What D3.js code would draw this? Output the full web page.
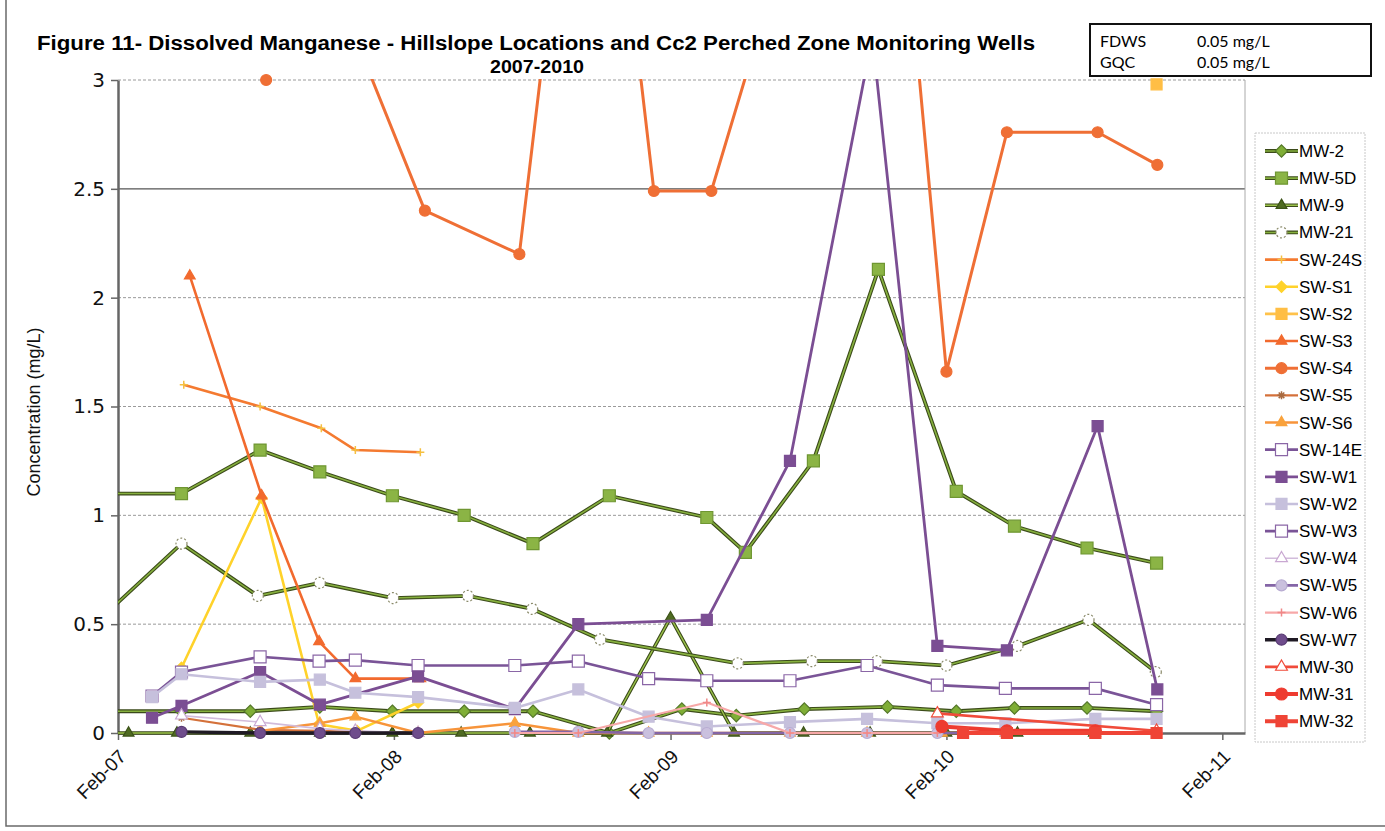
<!DOCTYPE html>
<html><head><meta charset="utf-8">
<script src="https://cdn.jsdelivr.net/npm/d3@7"></script>
<style>body{margin:0;background:#fff}svg{display:block}</style>
</head><body>
<svg id="chart" width="1385" height="831"></svg>
<script>
// ---------------- DATA ----------------
const titleLine1 = "Figure 11- Dissolved Manganese - Hillslope Locations and Cc2 Perched Zone Monitoring Wells";
const titleLine2 = "2007-2010";
const yTitle = "Concentration (mg/L)";
const yTicks = [0, 0.5, 1, 1.5, 2, 2.5, 3];
const xTicks = ["2007-02-01","2008-02-01","2009-02-01","2010-02-01","2011-02-01"];
const xDomain = ["2007-02-01","2011-03-03"];
const standardsNames = ["FDWS","GQC"];
const standardsValues = ["0.05 mg/L","0.05 mg/L"];

const mw2 = [["2006-12-01",0.10],["2007-04-26",0.10],["2007-07-26",0.10],["2007-10-26",0.12],["2008-01-30",0.10],["2008-05-04",0.10],["2008-08-03",0.10],["2008-11-12",0.00],["2009-02-16",0.11],["2009-04-29",0.08],["2009-07-28",0.11],["2009-11-15",0.12],["2010-02-14",0.10],["2010-05-02",0.115],["2010-08-06",0.115],["2010-11-06",0.10]];
const mw5d = [["2006-12-01",1.10],["2007-04-26",1.10],["2007-08-08",1.30],["2007-10-26",1.20],["2008-01-30",1.09],["2008-05-04",1.00],["2008-08-03",0.87],["2008-11-12",1.09],["2009-03-21",0.99],["2009-05-11",0.83],["2009-08-09",1.25],["2009-11-03",2.13],["2010-02-14",1.11],["2010-05-02",0.95],["2010-08-06",0.85],["2010-11-06",0.78]];
const mw9 = [["2006-12-01",0],["2007-02-15",0],["2007-04-20",0],["2007-07-26",0],["2007-10-26",0],["2008-01-30",0],["2008-04-30",0],["2008-07-30",0],["2008-11-09",0],["2009-02-01",0.53],["2009-04-26",0],["2009-07-27",0],["2009-10-23",0],["2010-02-01",0],["2010-05-06",0],["2010-08-15",0]];
const mw21 = [["2006-12-01",0.40],["2007-04-26",0.87],["2007-08-05",0.63],["2007-10-26",0.69],["2008-01-31",0.62],["2008-05-09",0.63],["2008-08-02",0.57],["2008-10-31",0.43],["2009-05-01",0.32],["2009-08-07",0.33],["2009-11-01",0.33],["2010-02-01",0.31],["2010-05-06",0.40],["2010-08-08",0.52],["2010-11-05",0.28]];
const sw24s = [["2007-04-29",1.60],["2007-08-08",1.50],["2007-10-28",1.40],["2007-12-12",1.30],["2008-03-07",1.29]];
const sws1 = [["2007-04-26",0.30],["2007-08-10",1.08],["2007-10-25",0.04],["2007-12-14",0.01],["2008-03-04",0.14]];
const sws2 = [["2010-11-06",2.98]];
const sws3 = [["2007-05-07",2.10],["2007-08-10",1.09],["2007-10-25",0.42],["2007-12-12",0.25],["2008-03-07",0.25]];
const sws4 = [["2007-08-16",3.00],["2007-10-26",3.60],["2008-03-13",2.40],["2008-07-16",2.20],["2008-10-19",4.97],["2009-01-10",2.49],["2009-03-27",2.49],["2009-11-03",5.05],["2010-02-01",1.66],["2010-04-22",2.76],["2010-08-20",2.76],["2010-11-07",2.61]];
const sws5 = [["2007-04-26",0.07],["2007-08-08",0.015],["2007-10-26",0.01],["2007-12-12",0.005],["2008-03-04",0.0]];
const sws6 = [["2007-08-08",0.01],["2007-10-26",0.045],["2007-12-12",0.075],["2008-03-04",0.0],["2008-07-10",0.045],["2008-10-02",0.0],["2009-01-03",0.0],["2009-03-21",0.0],["2009-07-09",0.0],["2009-10-19",0.0],["2010-01-26",0.0],["2010-04-20",0.0],["2010-08-17",0.0]];
const sw14e = [["2007-03-18",0.17],["2007-04-26",0.28],["2007-08-08",0.35],["2007-10-25",0.33],["2007-12-12",0.335],["2008-03-04",0.31],["2008-07-10",0.31],["2008-10-02",0.33],["2009-01-03",0.25],["2009-03-21",0.24],["2009-07-09",0.24],["2009-10-19",0.31],["2010-01-20",0.22],["2010-04-20",0.205],["2010-08-17",0.205],["2010-11-06",0.13]];
const sww1 = [["2007-03-18",0.07],["2007-04-26",0.125],["2007-08-08",0.28],["2007-10-26",0.13],["2008-03-04",0.26],["2008-07-10",0.11],["2008-10-02",0.50],["2009-03-21",0.52],["2009-07-09",1.25],["2009-10-26",3.20],["2010-01-20",0.40],["2010-04-22",0.38],["2010-08-20",1.41],["2010-11-07",0.20]];
const sww2 = [["2007-03-18",0.165],["2007-04-26",0.27],["2007-08-08",0.235],["2007-10-26",0.245],["2007-12-12",0.185],["2008-03-04",0.165],["2008-07-10",0.115],["2008-10-02",0.20],["2009-01-03",0.075],["2009-03-21",0.03],["2009-07-09",0.05],["2009-10-19",0.065],["2010-01-20",0.045],["2010-04-20",0.045],["2010-08-17",0.065],["2010-11-06",0.065]];
const sww3 = [];
const sww4 = [["2007-04-26",0.08],["2007-08-08",0.05],["2007-10-26",0.02],["2007-12-12",0.01],["2008-03-04",0.0]];
const sww5 = [["2008-07-10",0.005],["2008-10-02",0.005],["2009-01-03",0.0],["2009-03-21",0.0],["2009-07-09",0.0],["2009-10-19",0.0],["2010-01-20",0.0],["2010-04-20",0.0],["2010-08-17",0.0],["2010-11-06",0.0]];
const sww6 = [["2008-07-10",0.0],["2008-10-02",0.0],["2009-03-21",0.14],["2009-07-09",0.0],["2009-10-19",0.0],["2010-01-20",0.0]];
const sww7 = [["2007-04-26",0.005],["2007-08-08",0.0],["2007-10-26",0.0],["2007-12-12",0.0],["2008-03-04",0.0]];
const mw30 = [["2010-01-20",0.09],["2010-11-06",0.01]];
const mw31 = [["2010-01-26",0.03],["2010-04-22",0.01],["2010-08-17",0.01]];
const mw32 = [["2010-02-23",0.0],["2010-04-22",0.0],["2010-08-17",0.0],["2010-11-06",0.0]];

const seriesNames = ["MW-2","MW-5D","MW-9","MW-21","SW-24S","SW-S1","SW-S2","SW-S3","SW-S4","SW-S5","SW-S6","SW-14E","SW-W1","SW-W2","SW-W3","SW-W4","SW-W5","SW-W6","SW-W7","MW-30","MW-31","MW-32"];
const seriesValues = [mw2,mw5d,mw9,mw21,sw24s,sws1,sws2,sws3,sws4,sws5,sws6,sw14e,sww1,sww2,sww3,sww4,sww5,sww6,sww7,mw30,mw31,mw32];

// ---------------- STYLES ----------------
const G = "#86b03e", GE = "#3b4a1a";
const seriesStyles = [
  {line:G, edge:GE, w:1.6, marker:"diamond", size:10, fill:"#7fae36", stroke:"#55782a"},
  {line:G, edge:GE, w:1.6, marker:"square", size:12, fill:"#8bb445", stroke:"#6f9632"},
  {line:"#9bc24a", edge:GE, w:1.4, marker:"triangle", size:10, fill:"#4f6b22", stroke:"#3c5318"},
  {line:G, edge:GE, w:1.6, marker:"circle", size:11, fill:"#fff", stroke:"#8a8a6a", dash:"2,2"},
  {line:"#f47a30", w:2.6, marker:"plus", size:8, fill:"none", stroke:"#f5c040"},
  {line:"#ffd22a", w:2.6, marker:"diamond", size:9, fill:"#ffd22a", stroke:"#ffd22a"},
  {line:"#ffc24a", w:2.6, marker:"square", size:11, fill:"#ffbe45", stroke:"#ffbe45"},
  {line:"#f26a2e", w:2.6, marker:"triangle", size:10, fill:"#f26a2e", stroke:"#f26a2e"},
  {line:"#ef6f35", w:3, marker:"circle", size:11, fill:"#ef6f35", stroke:"#ef6f35"},
  {line:"#d4713a", w:2.2, marker:"star", size:8, fill:"none", stroke:"#a86a40"},
  {line:"#f7943a", w:2.4, marker:"triangle", size:10, fill:"#f9a23c", stroke:"#f9a23c"},
  {line:"#7a5497", w:2.6, marker:"square", size:12, fill:"#fff", stroke:"#8a66a6"},
  {line:"#7b4e93", w:2.8, marker:"square", size:11, fill:"#7b4e93", stroke:"#7b4e93"},
  {line:"#c6c0dc", w:2.6, marker:"square", size:11, fill:"#c6c0dc", stroke:"#c6c0dc"},
  {line:"#7a5497", w:2.6, marker:"square", size:12, fill:"#fff", stroke:"#8a66a6"},
  {line:"#d2bcdb", w:1.6, marker:"triangle", size:11, fill:"#fff", stroke:"#c9a8d2"},
  {line:"#8465a6", w:2.6, marker:"circle", size:11, fill:"#cac0de", stroke:"#b8acd2"},
  {line:"#f7a8a8", w:2.2, marker:"plus", size:8, fill:"none", stroke:"#f08888"},
  {line:"#1f1a24", w:3.4, marker:"circle", size:11, fill:"#6f4d8c", stroke:"#5a3c75"},
  {line:"#f04b3a", w:2.6, marker:"triangle", size:11, fill:"#fff", stroke:"#f04b3a"},
  {line:"#ee3b30", w:4, marker:"circle", size:12, fill:"#ee3b30", stroke:"#ee3b30"},
  {line:"#ef4436", w:4, marker:"square", size:11, fill:"#ef4436", stroke:"#ef4436"}
];

// ---------------- CHART ----------------
const parse = d3.utcParse("%Y-%m-%d");
const svg = d3.select("#chart");
const plot = {left:118, right:1245, top:80, bottom:733};
const x = d3.scaleUtc().domain(xDomain.map(parse)).range([plot.left, plot.right]);
const y = d3.scaleLinear().domain([0,3]).range([plot.bottom, plot.top]);

// outer frame
svg.append("path").attr("d","M6,0V826H1385").attr("fill","none").attr("stroke","#6a6a6a").attr("stroke-width",1.5);

// titles
svg.append("text").attr("x",37).attr("y",50).attr("textLength",998).attr("lengthAdjust","spacingAndGlyphs")
  .style("font-family","'Liberation Sans',Arial,sans-serif").style("font-weight","bold").style("font-size","20px").text(titleLine1);
svg.append("text").attr("x",537).attr("y",73).attr("text-anchor","middle").attr("textLength",94).attr("lengthAdjust","spacingAndGlyphs")
  .style("font-family","'Liberation Sans',Arial,sans-serif").style("font-weight","bold").style("font-size","19px").text(titleLine2);

// standards box
svg.append("rect").attr("x",1090).attr("y",24).attr("width",281).attr("height",52).attr("fill","#fff").attr("stroke","#111").attr("stroke-width",2);
standardsNames.forEach((n,i)=>{
  svg.append("text").attr("x",1100).attr("y",47+i*21).style("font-family","Lato,'Open Sans',sans-serif").style("font-size","16px").text(n);
  svg.append("text").attr("x",1197).attr("y",47+i*21).style("font-family","Lato,'Open Sans',sans-serif").style("font-size","16px").text(standardsValues[i]);
});

// gridlines
const grid = svg.append("g");
yTicks.filter(t=>t>0).forEach(t=>{
  grid.append("line").attr("x1",plot.left).attr("x2",plot.right).attr("y1",y(t)).attr("y2",y(t))
    .attr("stroke", t===2.5 ? "#555" : "#9a9a9a").attr("stroke-width", t===2.5?1.2:1)
    .attr("stroke-dasharray", t===2.5 ? null : "3,2");
});
// right border
svg.append("line").attr("x1",plot.right).attr("x2",plot.right).attr("y1",plot.top).attr("y2",plot.bottom).attr("stroke","#aaa").attr("stroke-width",1);

// axes
const yAxis = svg.append("g").attr("transform",`translate(${plot.left},0)`)
  .call(d3.axisLeft(y).tickValues(yTicks).tickFormat(d3.format("")).tickSize(7).tickSizeOuter(0).tickPadding(6));
yAxis.select(".domain").attr("stroke","#666").attr("stroke-width",2.5);
yAxis.selectAll(".tick line").attr("stroke","#666").attr("stroke-width",1.5);
yAxis.selectAll("text").style("font-family","'DejaVu Sans',Verdana,sans-serif").style("font-size","20px").attr("fill","#111");

const xAxis = svg.append("g").attr("transform",`translate(0,${plot.bottom})`)
  .call(d3.axisBottom(x).tickValues(xTicks.map(parse)).tickFormat(d3.utcFormat("%b-%y")).tickSize(7).tickSizeOuter(0));
xAxis.select(".domain").attr("stroke","#666").attr("stroke-width",2.5);
xAxis.selectAll(".tick line").attr("stroke","#666").attr("stroke-width",1.5);
xAxis.selectAll("text").attr("text-anchor","end").attr("dy","0.35em").attr("y",0)
  .attr("transform","translate(4,20) rotate(-45)")
  .style("font-family","'Liberation Sans',Arial,sans-serif").style("font-size","19px").attr("fill","#111");

// y title
svg.append("text").attr("transform","translate(40,412) rotate(-90)").attr("text-anchor","middle")
  .style("font-family","'Liberation Sans',Arial,sans-serif").style("font-size","18px").attr("fill","#111").text(yTitle);

// clip
svg.append("clipPath").attr("id","pc").append("rect")
  .attr("x",plot.left).attr("y",plot.top-1).attr("width",plot.right-plot.left).attr("height",plot.bottom-plot.top+8);

function markerPath(type, s){
  switch(type){
    case "square": return d3.symbol(d3.symbolSquare, s*s)();
    case "diamond": { const h=s*0.62; return `M0,${-h}L${h},0L0,${h}L${-h},0Z`; }
    case "triangle": return d3.symbol(d3.symbolTriangle, s*s*0.5)();
    case "circle": return d3.symbol(d3.symbolCircle, Math.PI*(s/2)*(s/2))();
    case "plus": { const h=s/2; return `M${-h},0H${h}M0,${-h}V${h}`; }
    case "star": { const h=s/2; return `M${-h},0H${h}M0,${-h}V${h}M${-h*0.7},${-h*0.7}L${h*0.7},${h*0.7}M${-h*0.7},${h*0.7}L${h*0.7},${-h*0.7}`; }
  }
}
function drawMarker(g, st, px, py){
  g.append("path").attr("d", markerPath(st.marker, st.size)).attr("transform",`translate(${px},${py})`)
    .attr("fill", st.fill).attr("stroke", st.stroke).attr("stroke-width", st.marker==="plus"||st.marker==="star"?1.5:1.2)
    .attr("stroke-dasharray", st.dash||null);
}

const line = d3.line().x(d=>x(parse(d[0]))).y(d=>y(d[1]));
const series = svg.append("g");
seriesValues.forEach((vals,i)=>{
  const st = seriesStyles[i];
  const g = series.append("g");
  if(vals.length>1){
    const lg = g.append("g").attr("clip-path","url(#pc)");
    if(st.edge) lg.append("path").attr("d",line(vals)).attr("fill","none").attr("stroke",st.edge).attr("stroke-width",st.w+2.2).attr("stroke-linejoin","round");
    lg.append("path").attr("d",line(vals)).attr("fill","none").attr("stroke",st.line).attr("stroke-width",st.w).attr("stroke-linejoin","round");
  }
  vals.filter(d=>d[1]<=3.02 && parse(d[0])>=x.domain()[0]).forEach(d=>drawMarker(g, st, x(parse(d[0])), y(d[1])));
});

// legend
svg.append("rect").attr("x",1255).attr("y",133).attr("width",110).attr("height",609).attr("fill","none")
  .attr("stroke","#c8c8c8").attr("stroke-width",1).attr("stroke-dasharray","2,1");
const leg = svg.append("g");
seriesNames.forEach((n,i)=>{
  const st = seriesStyles[i];
  const ly = 151 + i*27.15;
  if(st.edge) leg.append("line").attr("x1",1265).attr("x2",1298).attr("y1",ly).attr("y2",ly).attr("stroke",st.edge).attr("stroke-width",st.w+2.2);
  leg.append("line").attr("x1",1265).attr("x2",1298).attr("y1",ly).attr("y2",ly).attr("stroke",st.line).attr("stroke-width",st.w);
  drawMarker(leg, st, 1281.5, ly);
  leg.append("text").attr("x",1299).attr("y",ly+6).style("font-family","'Liberation Sans',Arial,sans-serif").style("font-size","17px").attr("fill","#000").text(n);
});
</script>
</body></html>
